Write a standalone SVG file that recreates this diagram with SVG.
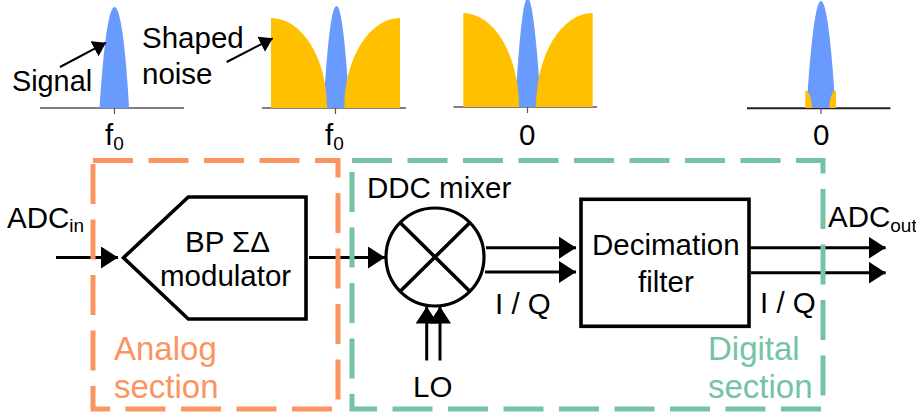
<svg xmlns="http://www.w3.org/2000/svg" width="916" height="417" viewBox="0 0 916 417">
<style>
text{font-family:"Liberation Sans",Arial,sans-serif;font-size:29.500px;fill:#000}
.sub{font-size:19px}
.sec{font-size:33px}
.b{fill:#699bff}.y{fill:#ffc000}
.ax{stroke:#808080;stroke-width:2;fill:none}
.tk{stroke:#555;stroke-width:1.2;fill:none}
.ln{stroke:#000;stroke-width:3;fill:none}
.box{stroke:#000;stroke-width:3.600;fill:#fff}
.lf{stroke:#000;stroke-width:2;fill:none}
.or{stroke:#fb9460;stroke-width:5;fill:none;stroke-dasharray:40 15.500}
.gr{stroke:#75c3a4;stroke-width:5;fill:none;stroke-dasharray:40 15.500}
.ot{fill:#fb9460}.gt{fill:#75c3a4}
</style>
<defs>
<marker id="ah" markerUnits="userSpaceOnUse" markerWidth="17" markerHeight="22" refX="17" refY="11" orient="auto"><path d="M0 0L17 11L0 22Z" fill="#000"/></marker>
<marker id="ahs" markerUnits="userSpaceOnUse" markerWidth="13" markerHeight="17" refX="13" refY="8.500" orient="auto"><path d="M0 0L13 8.500L0 17Z" fill="#000"/></marker>
</defs>
<g id="spectrum-1">
<path class="ax" d="M40 108H184"/><path class="tk" d="M114.500 108V114"/>
<path class="b" d="M99.500 108C102 70 107 7 114.500 7C122 7 127 70 129 108Z"/>
<text x="12" y="91" style="font-size:28.800px">Signal</text>
<text x="105" y="145">f<tspan class="sub" dy="5">0</tspan></text>
</g>
<g id="spectrum-2">
<path class="ax" d="M262 108H406"/><path class="tk" d="M335.500 108V114"/>
<path class="b" d="M323.500 108C326 70 330 6 336.500 6C343 6 347 70 350 108Z"/>
<path class="y" d="M271 18A56 90 0 0 1 327 108H271Z"/>
<path class="y" d="M400 18A56 90 0 0 0 344.300 108H400Z"/>
<text x="142" y="48">Shaped</text><text x="142" y="84">noise</text>
<text x="325" y="145">f<tspan class="sub" dy="5">0</tspan></text>
</g>
<g id="spectrum-3">
<path class="ax" d="M453.500 107H597"/><path class="tk" d="M527.500 107V113"/>
<path class="b" d="M515 107C518 60 522 -2 527.700 -2C533 -2 538 60 541 107Z"/>
<path class="y" d="M463.300 13A56 94 0 0 1 519 107H463.300Z"/>
<path class="y" d="M592.700 13A56.700 94 0 0 0 536 107H592.700Z"/>
<text x="519" y="145">0</text>
</g>
<g id="spectrum-4">
<path class="ax" d="M747 108.300H890.500" style="stroke:#222"/><path class="tk" d="M821 108V114"/>
<path class="b" d="M806.500 108C809 70 814 1 821 1C828 1 833 70 835.500 108Z"/>
<path class="y" d="M805.300 90.500A6.700 17.500 0 0 1 812 108H805.300Z"/>
<path class="y" d="M836 90.500A6.700 17.500 0 0 0 829.300 108H836Z"/>
<text x="813" y="145">0</text>
</g>
<g id="connectors">
<path class="ln" d="M56 257.500H118" marker-end="url(#ah)"/>
<path class="ln" d="M309 257.500H385" marker-end="url(#ah)"/>
<path class="ln" d="M486 247.700H576" marker-end="url(#ah)"/>
<path class="ln" d="M485 272H576" marker-end="url(#ah)"/>
<path class="ln" d="M750 247.700H885.700" marker-end="url(#ah)"/>
<path class="ln" d="M751 272.700H885.700" marker-end="url(#ah)"/>
<path class="ln" d="M426.700 360.500V306.500" marker-end="url(#ah)"/>
<path class="ln" d="M440 360.500V306.500" marker-end="url(#ah)"/>
<path class="lf" d="M60 67L106 42.700" marker-end="url(#ahs)"/>
<path class="lf" d="M226.700 62L272.700 38.300" marker-end="url(#ahs)"/>
</g>
<g id="analog-section">
<rect class="or" x="93" y="160.500" width="245" height="248.500"/>
<text class="ot sec" x="114" y="360">Analog</text><text class="ot sec" x="114" y="398">section</text>
</g>
<g id="digital-section">
<rect class="gr" x="352" y="160.500" width="471" height="248.500"/>
<text class="gt sec" x="708" y="360">Digital</text><text class="gt sec" x="708" y="398">section</text>
</g>
<g id="modulator">
<path class="box" d="M123.500 257.700L188.300 197H306V319H188.300Z"/>
<text x="185" y="252">BP ΣΔ</text><text x="160" y="286">modulator</text>
</g>
<g id="mixer">
<circle cx="435" cy="257" r="49" style="fill:#fff;stroke:#000;stroke-width:3.200"/>
<path d="M399.500 222L470.500 292M470.500 222L399.500 292" style="stroke:#000;stroke-width:3.600;fill:none"/>
<text x="367" y="198">DDC mixer</text>
<text x="495" y="314">I / Q</text>
<text x="413" y="397">LO</text>
</g>
<g id="filter">
<rect class="box" x="581" y="199.300" width="168" height="127"/>
<text x="592" y="255">Decimation</text><text x="638" y="292">filter</text>
<text x="760" y="313">I / Q</text>
</g>
<g id="labels">
<text x="7" y="228">ADC<tspan class="sub" dy="4">in</tspan></text>
<text x="828" y="227">ADC<tspan class="sub" dy="5">out</tspan></text>
</g>
</svg>
